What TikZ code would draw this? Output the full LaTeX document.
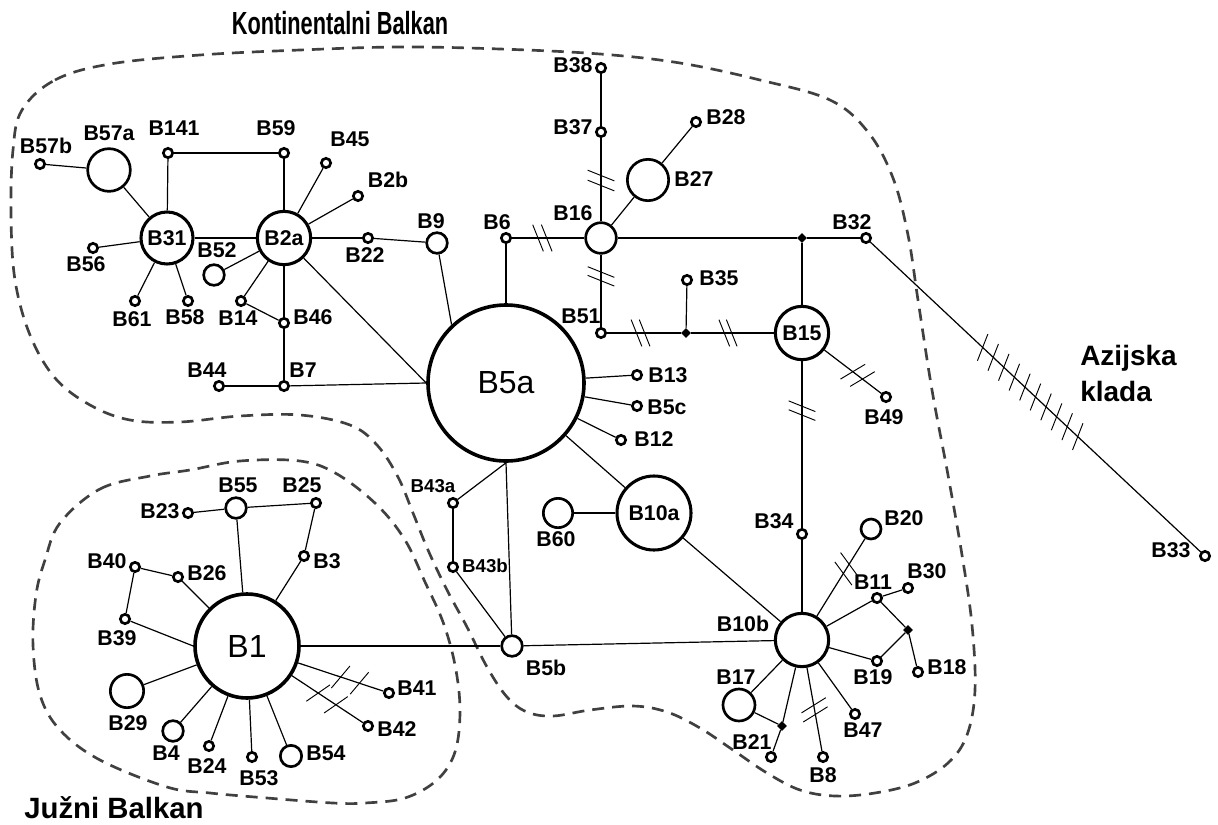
\documentclass[tikz,border=0pt]{standalone}
\usepackage{fontspec}
\setmainfont{Liberation Sans}
\usepackage{graphicx}
\usetikzlibrary{decorations.markings,shapes.geometric}

\tikzset{
  hap/.style={circle, draw, fill=white, line width=2pt, inner sep=0pt, minimum size=#1},
  hap/.default=7pt,
  mv/.style={diamond, fill=black, inner sep=0pt, minimum size=7.5pt},
  lbl/.style={inner sep=0pt, font=\bfseries\fontsize{16}{16}\selectfont},
  inlbl/.style={line width=2.3pt, font=\bfseries\fontsize{16}{16}\selectfont},
  big/.style={line width=2.7pt, font=\fontsize{24}{24}\selectfont},
  link/.style={line width=0.9pt},
  region/.style={draw=black!75, line width=2pt, dash pattern=on 9pt off 6pt},
  mutA/.style n args={3}{postaction={decorate,decoration={markings,
      mark=between positions #1 and #2 step #3 with {\draw[line width=0.7pt] (-4pt,-10pt) -- (4pt,10pt);}}}},
  mutB/.style n args={3}{postaction={decorate,decoration={markings,
      mark=between positions #1 and #2 step #3 with {\draw[line width=0.7pt] (4pt,-10pt) -- (-4pt,10pt);}}}},
}

\begin{document}
\begin{tikzpicture}[x=0.75pt,y=0.75pt,yscale=-1,xscale=1]
\useasboundingbox (0,0) rectangle (1218,825);

%Curve Lines: Kontinentalni Balkan
\draw[region] plot [smooth cycle, tension=0.6] coordinates {(22,110) (55,80) (110,64) (200,55) (300,50) (400,47) (500,49) (600,54) (680,63) (760,80) (830,100) (868,132) (893,178) (908,235) (918,300) (932,390) (948,475) (962,555) (972,625) (975,690) (967,735) (948,763) (915,783) (875,793) (835,796) (800,790) (767,773) (733,750) (700,728) (667,712) (633,706) (590,710) (553,716) (527,712) (507,697) (487,667) (467,627) (447,590) (428,550) (413,513) (398,477) (377,445) (350,425) (300,415) (240,416) (180,422) (130,420) (90,405) (55,378) (30,335) (15,280) (11,215) (13,150)};
%Curve Lines: Juzni Balkan
\draw[region] plot [smooth cycle, tension=0.6] coordinates {(60,523) (100,489) (150,476) (190,470) (240,461) (300,461) (337,474) (377,505) (405,540) (425,582) (443,622) (455,665) (460,710) (455,752) (437,780) (405,798) (365,803) (333,803) (267,798) (210,793) (167,787) (100,760) (60,730) (40,695) (33,645) (36,595) (45,560)};

%Shape: Circle
\draw (40,164) node [hap] (B57b) {};
% Text Node
\draw (46,146) node [lbl] (tB57b) {B57b};
%Shape: Circle
\draw (109,170) node [hap=32pt] (B57a) {};
% Text Node
\draw (109,133) node [lbl] (tB57a) {B57a};
%Shape: Circle
\draw (168,153) node [hap] (B141) {};
% Text Node
\draw (174,128) node [lbl] (tB141) {B141};
%Shape: Circle
\draw (284,153) node [hap] (B59) {};
% Text Node
\draw (276,128) node [lbl] (tB59) {B59};
%Shape: Circle
\draw (326,163) node [hap] (B45) {};
% Text Node
\draw (350,139) node [lbl] (tB45) {B45};
%Shape: Circle
\draw (358,196) node [hap] (B2b) {};
% Text Node
\draw (388,180) node [lbl] (tB2b) {B2b};
%Shape: Circle
\draw (167,238) node [hap=39pt, inlbl] (B31) {B31};
%Shape: Circle
\draw (284,238) node [hap=40pt, inlbl] (B2a) {B2a};
%Shape: Circle
\draw (214,275) node [hap=15.5pt] (B52) {};
% Text Node
\draw (217,250) node [lbl] (tB52) {B52};
%Shape: Circle
\draw (368,238) node [hap] (B22) {};
% Text Node
\draw (365,255) node [lbl] (tB22) {B22};
%Shape: Circle
\draw (437,243) node [hap=15.5pt] (B9) {};
% Text Node
\draw (431,221) node [lbl] (tB9) {B9};
%Shape: Circle
\draw (93,248) node [hap] (B56) {};
% Text Node
\draw (86,264) node [lbl] (tB56) {B56};
%Shape: Circle
\draw (135,301) node [hap] (B61) {};
% Text Node
\draw (132,319) node [lbl] (tB61) {B61};
%Shape: Circle
\draw (188,301) node [hap] (B58) {};
% Text Node
\draw (185,317) node [lbl] (tB58) {B58};
%Shape: Circle
\draw (241,301) node [hap] (B14) {};
% Text Node
\draw (238,318) node [lbl] (tB14) {B14};
%Shape: Circle
\draw (284,323) node [hap] (B46) {};
% Text Node
\draw (313,317) node [lbl] (tB46) {B46};
%Shape: Circle
\draw (219,386) node [hap] (B44) {};
% Text Node
\draw (207,370) node [lbl] (tB44) {B44};
%Shape: Circle
\draw (284,386) node [hap] (B7) {};
% Text Node
\draw (303,370) node [lbl] (tB7) {B7};

%Shape: Circle
\draw (506,383) node [hap=117pt, big] (B5a) {B5a};
%Shape: Circle
\draw (506,238) node [hap] (B6) {};
% Text Node
\draw (497,222) node [lbl] (tB6) {B6};
%Shape: Circle
\draw (601,238) node [hap=23pt] (B16) {};
% Text Node
\draw (573,213) node [lbl] (tB16) {B16};
%Shape: Circle
\draw (601,68) node [hap] (B38) {};
% Text Node
\draw (573,65) node [lbl] (tB38) {B38};
%Shape: Circle
\draw (601,132) node [hap] (B37) {};
% Text Node
\draw (573,127) node [lbl] (tB37) {B37};
%Shape: Circle
\draw (648,180) node [hap=31pt] (B27) {};
% Text Node
\draw (694,179) node [lbl] (tB27) {B27};
%Shape: Circle
\draw (696,122) node [hap] (B28) {};
% Text Node
\draw (726,117) node [lbl] (tB28) {B28};
%Shape: Circle
\draw (866,238) node [hap] (B32) {};
% Text Node
\draw (852,222) node [lbl] (tB32) {B32};
%Shape: Diamond
\draw (802,238) node [mv] (j1) {};
%Shape: Circle
\draw (687,280) node [hap] (B35) {};
% Text Node
\draw (719,278) node [lbl] (tB35) {B35};
%Shape: Circle
\draw (601,333) node [hap] (B51) {};
% Text Node
\draw (581,316) node [lbl] (tB51) {B51};
%Shape: Diamond
\draw (686,333) node [mv] (j2) {};
%Shape: Circle
\draw (802,333) node [hap=40pt, inlbl] (B15) {B15};
%Shape: Circle
\draw (637,375) node [hap] (B13) {};
% Text Node
\draw (668,375) node [lbl] (tB13) {B13};
%Shape: Circle
\draw (637,406) node [hap] (B5c) {};
% Text Node
\draw (667,407) node [lbl] (tB5c) {B5c};
%Shape: Circle
\draw (621,440) node [hap] (B12) {};
% Text Node
\draw (654,439) node [lbl] (tB12) {B12};
%Shape: Circle
\draw (886,397) node [hap] (B49) {};
% Text Node
\draw (884,417) node [lbl] (tB49) {B49};
%Shape: Circle
\draw (1205,556) node [hap] (B33) {};
% Text Node
\draw (1171,550) node [lbl] (tB33) {B33};

%Shape: Circle
\draw (453,503) node [hap] (B43a) {};
% Text Node
\draw (433,486) node [lbl, font=\bfseries\fontsize{14}{14}\selectfont] (tB43a) {B43a};
%Shape: Circle
\draw (453,567) node [hap] (B43b) {};
% Text Node
\draw (485,566) node [lbl, font=\bfseries\fontsize{14}{14}\selectfont] (tB43b) {B43b};
%Shape: Circle
\draw (512,646) node [hap=15.5pt] (B5b) {};
% Text Node
\draw (546,668) node [lbl] (tB5b) {B5b};
%Shape: Circle
\draw (558,513) node [hap=22pt] (B60) {};
% Text Node
\draw (556,539) node [lbl] (tB60) {B60};
%Shape: Circle
\draw (654,513) node [hap=55.5pt, inlbl] (B10a) {B10a};
%Shape: Circle
\draw (802,534) node [hap] (B34) {};
% Text Node
\draw (774,521) node [lbl] (tB34) {B34};
%Shape: Circle
\draw (802,640) node [hap=40pt, line width=2.3pt] (B10b) {};
% Text Node
\draw (743,624) node [lbl] (tB10b) {B10b};
%Shape: Circle
\draw (871,529) node [hap=15pt] (B20) {};
% Text Node
\draw (904,518) node [lbl] (tB20) {B20};
%Shape: Circle
\draw (877,598) node [hap] (B11) {};
% Text Node
\draw (873,582) node [lbl] (tB11) {B11};
%Shape: Circle
\draw (908,588) node [hap] (B30) {};
% Text Node
\draw (927,571) node [lbl] (tB30) {B30};
%Shape: Diamond
\draw (908,630) node [mv] (j3) {};
%Shape: Circle
\draw (877,661) node [hap] (B19) {};
% Text Node
\draw (873,677) node [lbl] (tB19) {B19};
%Shape: Circle
\draw (918,672) node [hap] (B18) {};
% Text Node
\draw (947,667) node [lbl] (tB18) {B18};
%Shape: Circle
\draw (739,705) node [hap=24pt] (B17) {};
% Text Node
\draw (736,677) node [lbl] (tB17) {B17};
%Shape: Diamond
\draw (782,726) node [mv] (j4) {};
%Shape: Circle
\draw (771,757) node [hap] (B21) {};
% Text Node
\draw (752,742) node [lbl] (tB21) {B21};
%Shape: Circle
\draw (823,757) node [hap] (B8) {};
% Text Node
\draw (823,775) node [lbl] (tB8) {B8};
%Shape: Circle
\draw (855,714) node [hap] (B47) {};
% Text Node
\draw (863,730) node [lbl] (tB47) {B47};

%Shape: Circle
\draw (247,646) node [hap=78pt, big] (B1) {B1};
%Shape: Circle
\draw (236,508) node [hap=15.5pt] (B55) {};
% Text Node
\draw (238,485) node [lbl] (tB55) {B55};
%Shape: Circle
\draw (316,503) node [hap] (B25) {};
% Text Node
\draw (302,485) node [lbl] (tB25) {B25};
%Shape: Circle
\draw (188,513) node [hap] (B23) {};
% Text Node
\draw (160,511) node [lbl] (tB23) {B23};
%Shape: Circle
\draw (135,567) node [hap] (B40) {};
% Text Node
\draw (107,561) node [lbl] (tB40) {B40};
%Shape: Circle
\draw (178,577) node [hap] (B26) {};
% Text Node
\draw (207,573) node [lbl] (tB26) {B26};
%Shape: Circle
\draw (304,556) node [hap] (B3) {};
% Text Node
\draw (327,561) node [lbl] (tB3) {B3};
%Shape: Circle
\draw (125,619) node [hap] (B39) {};
% Text Node
\draw (117,638) node [lbl] (tB39) {B39};
%Shape: Circle
\draw (127,691) node [hap=25pt] (B29) {};
% Text Node
\draw (128,723) node [lbl] (tB29) {B29};
%Shape: Circle
\draw (173,731) node [hap=15.5pt] (B4) {};
% Text Node
\draw (166,753) node [lbl] (tB4) {B4};
%Shape: Circle
\draw (209,746) node [hap] (B24) {};
% Text Node
\draw (207,766) node [lbl] (tB24) {B24};
%Shape: Circle
\draw (252,757) node [hap] (B53) {};
% Text Node
\draw (259,778) node [lbl] (tB53) {B53};
%Shape: Circle
\draw (291,756) node [hap=16pt] (B54) {};
% Text Node
\draw (326,753) node [lbl] (tB54) {B54};
%Shape: Circle
\draw (389,693) node [hap] (B41) {};
% Text Node
\draw (417,688) node [lbl] (tB41) {B41};
%Shape: Circle
\draw (368,726) node [hap] (B42) {};
% Text Node
\draw (397,729) node [lbl] (tB42) {B42};

% Text Node
\draw (340,23) node [inner sep=0pt, font=\bfseries\fontsize{24}{24}\selectfont] (tKB) {\scalebox{0.68}[1]{Kontinentalni Balkan}};
% Text Node
\draw (114,808) node [inner sep=0pt, font=\bfseries\fontsize{22}{22}\selectfont] (tJB) {Južni Balkan};
% Text Node
\draw (1080,373) node [anchor=west, inner sep=0pt, align=left, font=\bfseries\fontsize{21}{27}\selectfont] (tAK) {Azijska\\klada};

%Straight Lines
\draw[link] (B57b) -- (B57a);
\draw[link] (B57a) -- (B31);
\draw[link] (B141) -- (B59);
\draw[link] (B141) -- (B31);
\draw[link] (B59) -- (B2a);
\draw[link] (B45) -- (B2a);
\draw[link] (B2b) -- (B2a);
\draw[link] (B31) -- (B2a);
\draw[link] (B52) -- (B2a);
\draw[link] (B56) -- (B31);
\draw[link] (B61) -- (B31);
\draw[link] (B58) -- (B31);
\draw[link] (B14) -- (B2a);
\draw[link] (B14) -- (B46);
\draw[link] (B2a) -- (B46);
\draw[link] (B46) -- (B7);
\draw[link] (B44) -- (B7);
\draw[link] (B7) -- (B5a.west);
\draw[link] (B2a) -- (B5a.west);
\draw[link] (B2a) -- (B22);
\draw[link] (B22) -- (B9);
\draw[link] (B9) -- (B5a.133);

%Straight Lines
\draw[link] (B6) -- (B5a);
\draw[link, mutB={0.36}{0.5}{0.12}] (B6) -- (B16);
\draw[link] (B38) -- (B37);
\draw[link, mutA={0.43}{0.56}{0.12}] (B16) -- (B37);
\draw[link] (B16) -- (B27);
\draw[link] (B27) -- (B28);
\draw[link] (B16) -- (j1);
\draw[link] (j1) -- (B32);
\draw[link] (j1) -- (B15);
\draw[link, mutA={0.24}{0.37}{0.12}] (B16) -- (B51);
\draw[link, mutB={0.40}{0.52}{0.11}] (B51) -- (j2);
\draw[link, mutB={0.40}{0.50}{0.09}] (j2) -- (B15);
\draw[link] (j2) -- (B35);
\draw[link, mutA={0.50}{0.68}{0.17}] (B15) -- (B49);
\draw[link, mutA={0.27}{0.33}{0.053}] (B15) -- (B34);
\draw[link, mutB={0.34}{0.64}{0.032}] (B32) -- (B33);

%Straight Lines
\draw[link] (B5a) -- (B13);
\draw[link] (B5a) -- (B5c);
\draw[link] (B5a) -- (B12);
\draw[link] (B5a) -- (B10a);
\draw[link] (B43a) -- (B5a.south);
\draw[link] (B5b) -- (B5a.south);
\draw[link] (B43a) -- (B43b);
\draw[link] (B43b) -- (B5b);
\draw[link] (B1) -- (B5b);
\draw[link] (B5b) -- (B10b);
\draw[link] (B60) -- (B10a);
\draw[link] (B10a) -- (B10b);
\draw[link] (B34) -- (B10b);
\draw[link, mutA={0.55}{0.68}{0.12}] (B10b) -- (B20);
\draw[link] (B10b) -- (B11);
\draw[link] (B11) -- (B30);
\draw[link] (B11) -- (j3);
\draw[link] (j3) -- (B19);
\draw[link] (j3) -- (B18);
\draw[link] (B10b) -- (B19);
\draw[link] (B10b) -- (B17);
\draw[link] (B17) -- (j4);
\draw[link] (B10b) -- (j4);
\draw[link] (j4) -- (B21);
\draw[link, mutB={0.45}{0.57}{0.11}] (B10b) -- (B8);
\draw[link] (B10b) -- (B47);

%Straight Lines
\draw[link] (B23) -- (B55);
\draw[link] (B55) -- (B25);
\draw[link] (B55) -- (B1);
\draw[link] (B25) -- (B3);
\draw[link] (B3) -- (B1);
\draw[link] (B40) -- (B26);
\draw[link] (B26) -- (B1);
\draw[link] (B40) -- (B39);
\draw[link] (B39) -- (B1.west);
\draw[link] (B29) -- (B1);
\draw[link] (B4) -- (B1);
\draw[link] (B24) -- (B1);
\draw[link] (B53) -- (B1);
\draw[link] (B54) -- (B1);
\draw[link, mutA={0.5}{0.74}{0.22}] (B1) -- (B41);
\draw[link, mutA={0.37}{0.64}{0.25}] (B1) -- (B42);
\end{tikzpicture}
\end{document}
